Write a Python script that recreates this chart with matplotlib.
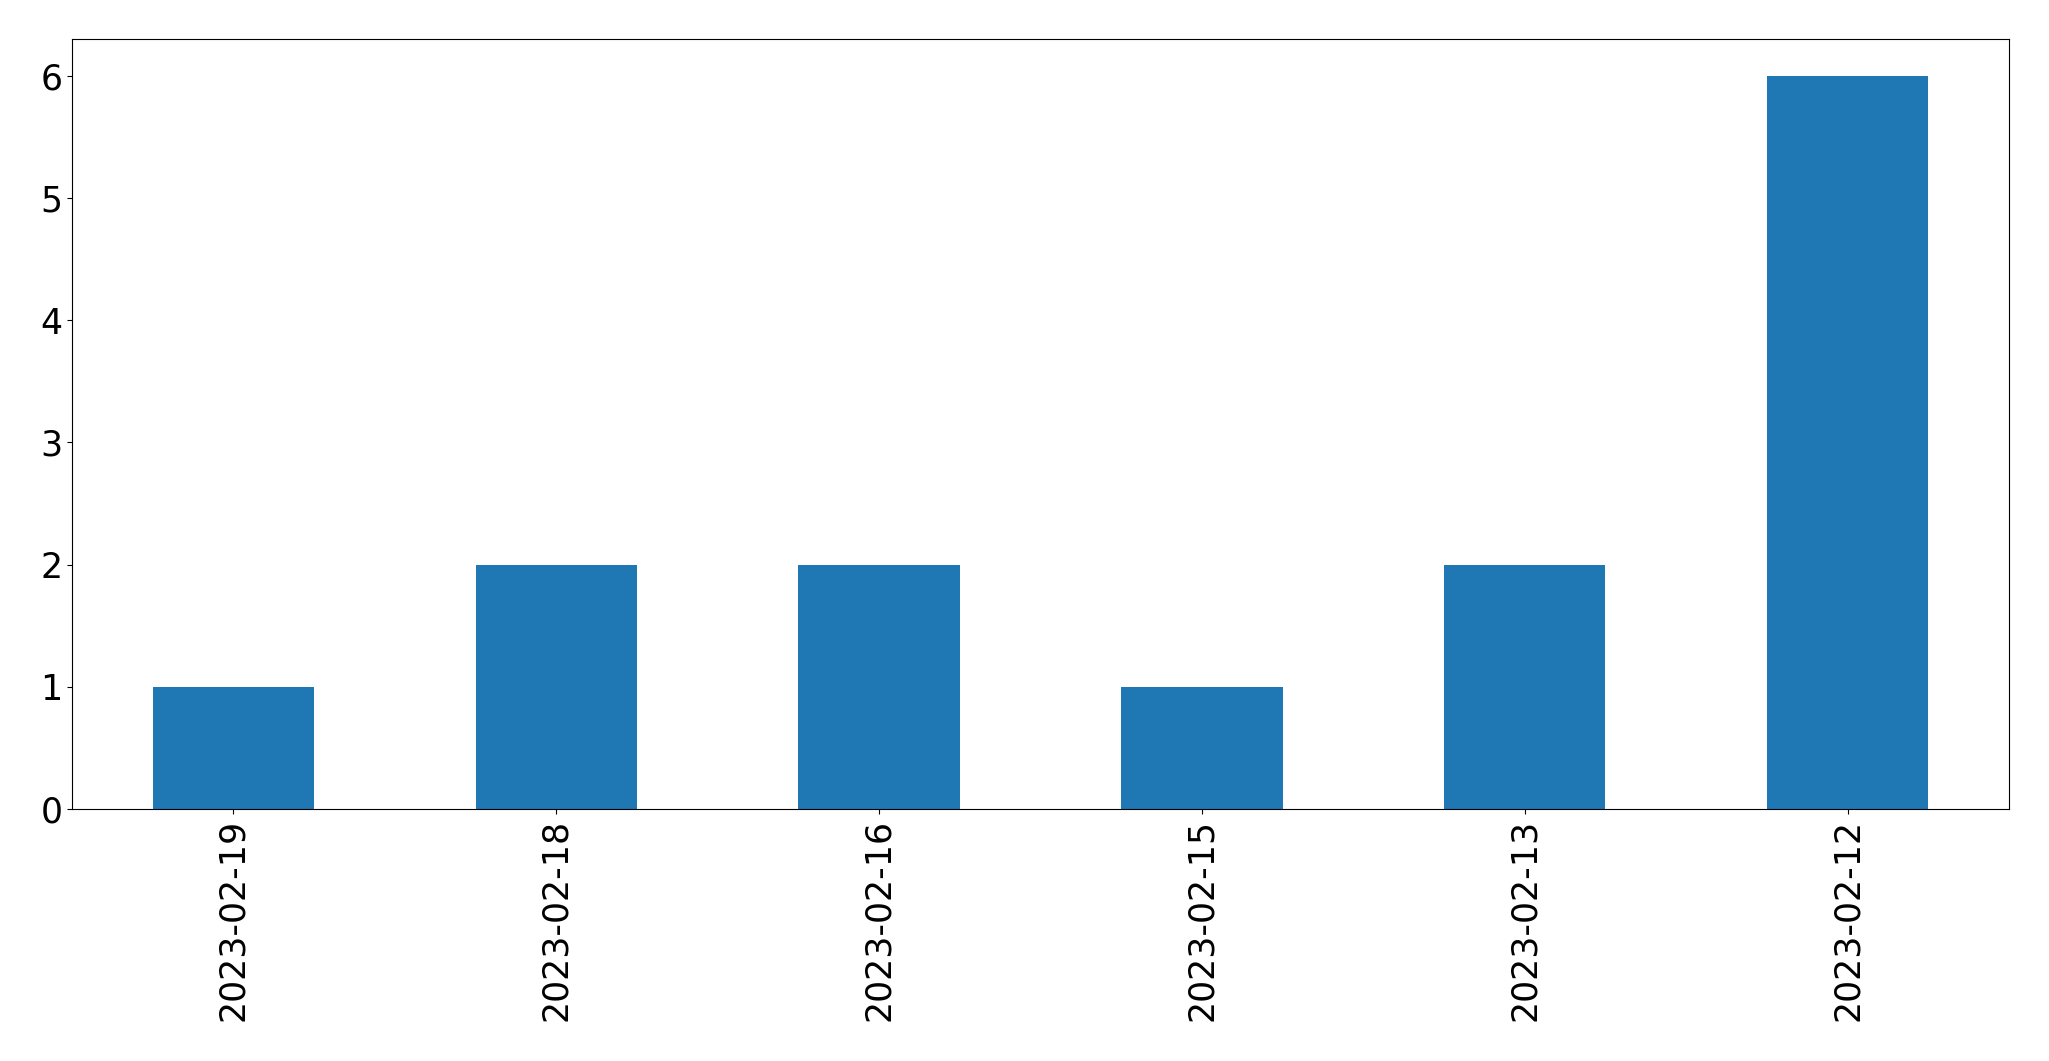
import matplotlib
matplotlib.use("Agg")
import matplotlib.pyplot as plt

dates = ["2023-02-19", "2023-02-18", "2023-02-16", "2023-02-15", "2023-02-13", "2023-02-12"]
counts = [1, 2, 2, 1, 2, 6]

fig = plt.figure(figsize=(20.49, 10.61), dpi=100)
ax = fig.add_axes([72/2049, 1 - 809/1061, (2009-72)/2049, (809-39)/1061])
x = range(len(dates))
ax.bar(x, counts, width=0.5, color="#1f77b4")
ax.set_xticks(list(x))
ax.set_xticklabels(dates, rotation=90, fontsize=25)
ax.tick_params(axis="y", labelsize=25)
ax.set_xlim(-0.5, len(dates) - 0.5)
ax.set_ylim(0, 6.3)
fig.savefig("out.png", dpi=100)
